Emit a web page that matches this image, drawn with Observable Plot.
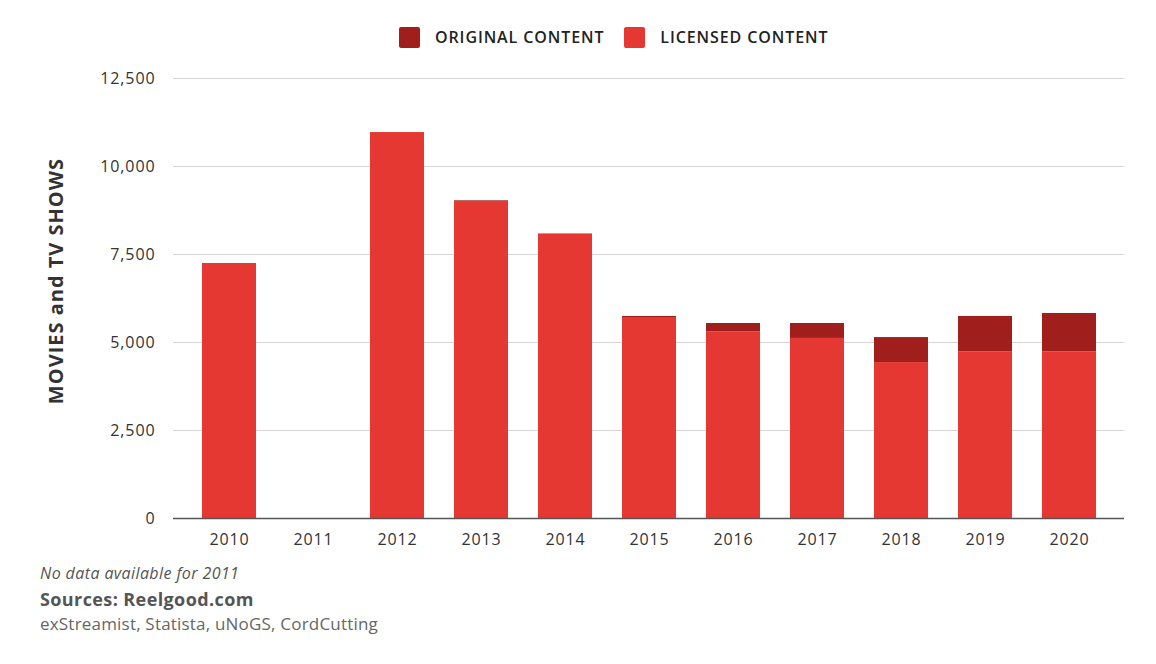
<!DOCTYPE html>
<html>
<head>
<meta charset="utf-8">
<script src="https://cdn.jsdelivr.net/npm/d3@7"></script>
<script src="https://cdn.jsdelivr.net/npm/@observablehq/plot@0.6"></script>
<style>
  html, body { margin: 0; padding: 0; background: #fff; }
  body { width: 1156px; height: 664px; position: relative; font-family: "Open Sans", sans-serif; overflow: hidden; }
  #legend { position: absolute; left: 399px; top: 26px; height: 22px; display: flex; align-items: center; font-size: 16px; font-weight: 600; color: #222; letter-spacing: 0.9px; z-index: 2; }
  .sw { width: 21px; height: 21px; border-radius: 2px; display: inline-block; margin-right: 15px; }
  .item { display: flex; align-items: center; margin-right: 20px; }
  #chart { position: absolute; left: 0; top: 60px; z-index: 1; }
  #chart svg text { letter-spacing: 0.9px; }
  #ylabel { position: absolute; left: 55px; top: 281px; transform: translate(-50%, -50%) rotate(-90deg); white-space: nowrap; font-size: 20px; font-weight: 700; color: #333; z-index: 3; letter-spacing: 1px; }
  .cap { position: absolute; left: 40px; color: #555; white-space: nowrap; z-index: 3; }
</style>
</head>
<body>
<div id="legend"></div>
<div id="chart"></div>
<div id="ylabel">MOVIES and TV SHOWS</div>
<div class="cap" style="top:562px;font-size:16px;font-style:italic;color:#555;letter-spacing:0.4px;">No data available for 2011</div>
<div class="cap" style="top:587px;font-size:18px;font-weight:700;color:#555;letter-spacing:0.4px;">Sources: Reelgood.com</div>
<div class="cap" style="top:612px;font-size:17px;color:#666;letter-spacing:0.2px;">exStreamist, Statista, uNoGS, CordCutting</div>
<script>
const years = ["2010","2011","2012","2013","2014","2015","2016","2017","2018","2019","2020"];
const licensed = [7245, null, 10965, 8985, 8085, 5710, 5300, 5115, 4430, 4735, 4735];
const original = [0, null, 0, 40, 0, 30, 240, 425, 710, 1005, 1090];
const seriesNames = ["LICENSED CONTENT", "ORIGINAL CONTENT"];
const legendOrder = ["ORIGINAL CONTENT", "LICENSED CONTENT"];
const colors = {"LICENSED CONTENT": "#E53832", "ORIGINAL CONTENT": "#A01F1C"};
const yTicks = [0, 2500, 5000, 7500, 10000, 12500];

const rows = [];
years.forEach((y, i) => {
  if (licensed[i] != null) rows.push({year: y, type: seriesNames[0], value: licensed[i]});
  if (original[i] != null && original[i] > 0) rows.push({year: y, type: seriesNames[1], value: original[i]});
});

const legend = document.getElementById("legend");
legendOrder.forEach(n => {
  const it = document.createElement("div");
  it.className = "item";
  it.innerHTML = `<span class="sw" style="background:${colors[n]}"></span><span>${n}</span>`;
  legend.appendChild(it);
});

const chart = Plot.plot({
  width: 1156,
  height: 500,
  marginLeft: 173,
  marginRight: 32,
  marginTop: 18,
  marginBottom: 42,
  style: {fontFamily: "Open Sans, sans-serif", fontSize: "16px", color: "#333", background: "transparent"},
  x: {domain: years, padding: 0.36, paddingOuter: 0.34, label: null, tickSize: 0, tickPadding: 15},
  y: {domain: [0, 12500], ticks: yTicks, label: null, tickSize: 0, tickPadding: 18, tickFormat: d3.format(",")},
  color: {domain: seriesNames, range: seriesNames.map(n => colors[n])},
  marks: [
    Plot.ruleY(yTicks.filter(d => d > 0), {stroke: "#d4d4d4", strokeWidth: 1.2}),
    Plot.barY(rows, {x: "year", y: "value", fill: "type", order: seriesNames}),
    Plot.ruleY([0], {stroke: "#555", strokeWidth: 1.5})
  ]
});
document.getElementById("chart").appendChild(chart);
</script>
</body>
</html>
